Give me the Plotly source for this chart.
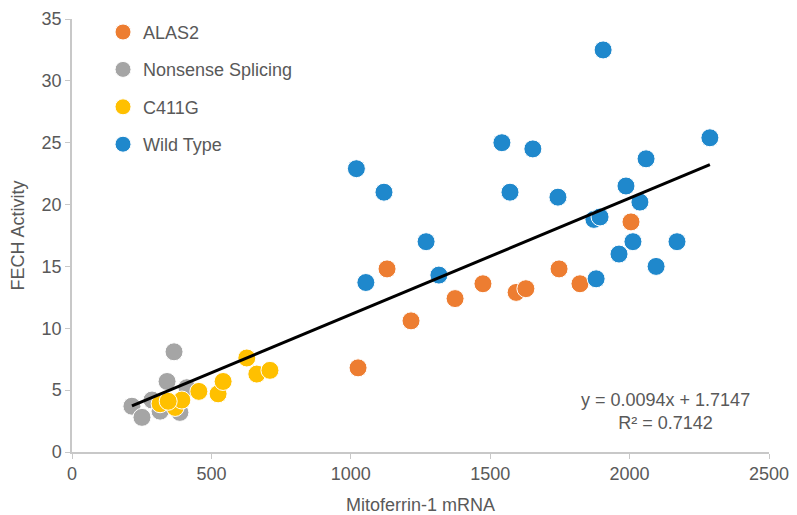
import plotly.graph_objects as go

# ---- data ----
alas2_x = [1130, 1216, 1374, 1474, 1593, 1628, 1747, 1822, 2005, 1026]
alas2_y = [14.8, 10.6, 12.4, 13.6, 12.9, 13.2, 14.8, 13.6, 18.6, 6.8]

nons_x = [215, 251, 287, 316, 387, 341, 366, 412]
nons_y = [3.7, 2.8, 4.2, 3.3, 3.2, 5.7, 8.1, 5.2]

c411g_x = [316, 376, 370, 394, 345, 455, 524, 542, 627, 663, 710]
c411g_y = [3.9, 3.9, 3.6, 4.2, 4.1, 4.9, 4.7, 5.7, 7.6, 6.3, 6.6]

wt_x = [1020, 1119, 1542, 1653, 1571, 1743, 1270, 1054, 1316, 1905, 2288,
        2059, 1987, 2037, 1872, 1894, 2012, 1962, 2170, 2095, 1880]
wt_y = [22.9, 21.0, 25.0, 24.5, 21.0, 20.6, 17.0, 13.7, 14.3, 32.5, 25.4,
        23.7, 21.5, 20.2, 18.8, 19.0, 17.0, 16.0, 17.0, 15.0, 14.0]

slope = 0.0094
intercept = 1.7147
r2 = 0.7142

series = [
    ("ALAS2", alas2_x, alas2_y, "#ED7D31"),
    ("Nonsense Splicing", nons_x, nons_y, "#A5A5A5"),
    ("C411G", c411g_x, c411g_y, "#FFC000"),
    ("Wild Type", wt_x, wt_y, "#1F88CC"),
]

TXT = "#595959"
FS = 18

fig = go.Figure()
for name, xs, ys, col in series:
    fig.add_trace(go.Scatter(
        x=xs, y=ys, mode="markers", name=name, legendgroup=name,
        marker=dict(size=18, color=col, line=dict(color="white", width=1)),
    ))

all_x = alas2_x + nons_x + c411g_x + wt_x
x0, x1 = min(all_x), max(all_x)
fig.add_trace(go.Scatter(
    x=[x0, x1], y=[slope * x0 + intercept, slope * x1 + intercept],
    mode="lines", line=dict(color="black", width=3), showlegend=False,
    hoverinfo="skip",
))

fig.add_annotation(
    x=2130, y=3.3, xref="x", yref="y",
    text=f"y = {slope}x + {intercept}<br>R² = {r2}",
    showarrow=False, align="center",
    font=dict(size=FS, color=TXT),
)

axis_common = dict(
    showgrid=False, zeroline=False, showline=True, linecolor="#C8C8C8",
    linewidth=1.5, ticks="outside", tickcolor="#C8C8C8", ticklen=5,
    tickfont=dict(size=FS, color=TXT), automargin=False,
    ticklabeloverflow="allow",
)

fig.update_layout(
    width=797, height=515,
    margin=dict(l=64, r=36, t=11, b=71, autoexpand=False),
    paper_bgcolor="white", plot_bgcolor="white",
    font=dict(family="Liberation Sans, Arial, sans-serif", color=TXT),
    xaxis=dict(range=[0, 2500], dtick=500,
               title=dict(text="Mitoferrin-1 mRNA", font=dict(size=FS, color=TXT)),
               **axis_common),
    yaxis=dict(range=[0, 35], dtick=5,
               title=dict(text="FECH Activity", font=dict(size=FS, color=TXT)),
               **axis_common),
    legend=dict(x=0.0445, y=1.012, xanchor="left", yanchor="top",
                font=dict(size=FS, color=TXT), bgcolor="rgba(0,0,0,0)",
                tracegroupgap=11, itemwidth=30),
    showlegend=True,
)

fig.write_html("out.html")
